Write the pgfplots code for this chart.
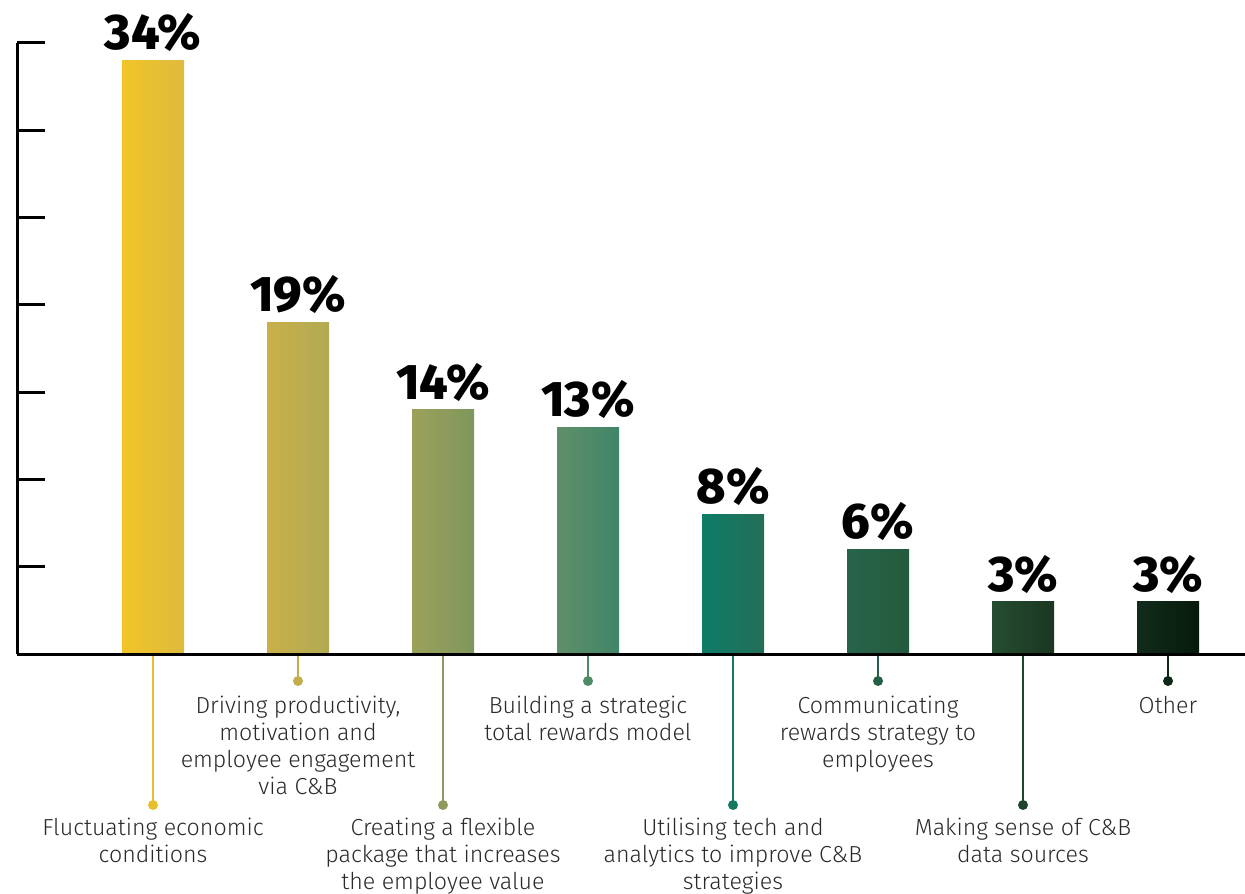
\documentclass[border=0pt]{standalone}
\usepackage{fontspec}
\setmainfont{Fira Sans Light}
\newfontfamily\pctfont{Fira Sans ExtraBold}
\usepackage{pgfplots}
\pgfplotsset{compat=1.18}
\definecolor{b0l}{HTML}{F2C428}\definecolor{b0r}{HTML}{DDBB3D}
\definecolor{b1l}{HTML}{C9B04A}\definecolor{b1r}{HTML}{B1AA53}
\definecolor{b2l}{HTML}{9CA15A}\definecolor{b2r}{HTML}{7E975D}
\definecolor{b3l}{HTML}{5F8F69}\definecolor{b3r}{HTML}{408569}
\definecolor{b4l}{HTML}{0E7C67}\definecolor{b4r}{HTML}{236E58}
\definecolor{b5l}{HTML}{27644B}\definecolor{b5r}{HTML}{245A3D}
\definecolor{b6l}{HTML}{254D31}\definecolor{b6r}{HTML}{1B3621}
\definecolor{b7l}{HTML}{122C1B}\definecolor{b7r}{HTML}{061A0C}
\definecolor{c0}{HTML}{E8C02E}
\definecolor{c1}{HTML}{C2AE4C}
\definecolor{c2}{HTML}{8E9B5C}
\definecolor{c3}{HTML}{4F8B66}
\definecolor{c4}{HTML}{167A62}
\definecolor{c5}{HTML}{255F45}
\definecolor{c6}{HTML}{21452C}
\definecolor{c7}{HTML}{0E2716}
\definecolor{txt}{HTML}{2A2A2A}
\tikzset{
  lab/.style={anchor=north, align=center, inner sep=0pt, text=txt, font=\fontsize{11.6}{13.5}\selectfont},
  dot/.style={circle, fill=#1, inner sep=0pt, minimum size=5pt},
}
\pgfplotsset{
  mybar/.style 2 args={draw=none, left color=#1, right color=#2, bar shift=0pt},
}
\begin{document}
\begin{tikzpicture}
\begin{axis}[
  at={(0,0)}, anchor=south west,
  scale only axis, width=614pt, height=305.5pt,
  xmin=-0.9379, xmax=7.531, ymin=0, ymax=35,
  axis x line*=bottom, axis y line*=left,
  axis line style={-, line width=1.5pt, black},
  xtick=\empty, ytick={0,5,...,35}, yticklabels={},
  tick align=inside, major tick length=14pt,
  every tick/.style={black, line width=1.5pt},
  clip=false, axis on top,
  ybar, bar width=31pt,
  /pgf/number format/assume math mode=true,
  nodes near coords={\pgfmathprintnumber{\pgfplotspointmeta}\%},
  every node near coord/.append style={font=\pctfont\fontsize{25}{25}\selectfont, anchor=south, inner sep=0pt, yshift=4pt, text=black},
]
\addplot[mybar={b0l}{b0r}] coordinates {(0,34)};
\addplot[mybar={b1l}{b1r}] coordinates {(1,19)};
\addplot[mybar={b2l}{b2r}] coordinates {(2,14)};
\addplot[mybar={b3l}{b3r}] coordinates {(3,13)};
\addplot[mybar={b4l}{b4r}] coordinates {(4,8)};
\addplot[mybar={b5l}{b5r}] coordinates {(5,6)};
\addplot[mybar={b6l}{b6r}] coordinates {(6,3)};
\addplot[mybar={b7l}{b7r}] coordinates {(7,3)};

\draw[c0, line width=0.9pt] (axis cs:0,0) -- ++(0pt,-75.5pt) node[dot=c0]{};
\draw[c1, line width=0.9pt] (axis cs:1,0) -- ++(0pt,-13.5pt) node[dot=c1]{};
\draw[c2, line width=0.9pt] (axis cs:2,0) -- ++(0pt,-75.5pt) node[dot=c2]{};
\draw[c3, line width=0.9pt] (axis cs:3,0) -- ++(0pt,-13.5pt) node[dot=c3]{};
\draw[c4, line width=0.9pt] (axis cs:4,0) -- ++(0pt,-75.5pt) node[dot=c4]{};
\draw[c5, line width=0.9pt] (axis cs:5,0) -- ++(0pt,-13.5pt) node[dot=c5]{};
\draw[c6, line width=0.9pt] (axis cs:6,0) -- ++(0pt,-75.5pt) node[dot=c6]{};
\draw[c7, line width=0.9pt] (axis cs:7,0) -- ++(0pt,-13.5pt) node[dot=c7]{};

\node[lab, yshift=-82pt] at (axis cs:0,0) {Fluctuating economic\\conditions};
\node[lab, yshift=-21pt] at (axis cs:1,0) {Driving productivity,\\motivation and\\employee engagement\\via C\&B};
\node[lab, yshift=-82pt] at (axis cs:2,0) {Creating a flexible\\package that increases\\the employee value};
\node[lab, yshift=-21pt] at (axis cs:3,0) {Building a strategic\\total rewards model};
\node[lab, yshift=-82pt] at (axis cs:4,0) {Utilising tech and\\analytics to improve C\&B\\strategies};
\node[lab, yshift=-21pt] at (axis cs:5,0) {Communicating\\rewards strategy to\\employees};
\node[lab, yshift=-82pt] at (axis cs:6,0) {Making sense of C\&B\\data sources};
\node[lab, yshift=-21pt] at (axis cs:7,0) {Other};
\end{axis}
\pgfresetboundingbox
\path (-8.5pt,-119.5pt) rectangle (614pt,327pt);
\end{tikzpicture}
\end{document}
